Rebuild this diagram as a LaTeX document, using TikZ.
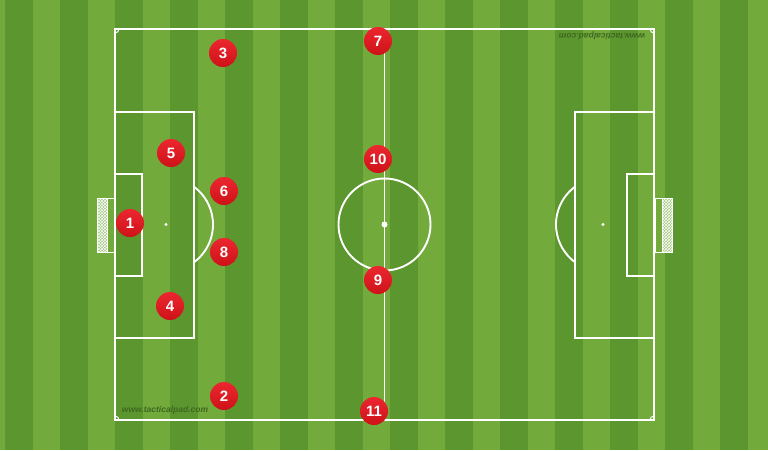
\documentclass[tikz,border=0pt]{standalone}
\usepackage{fontspec}
\setsansfont{Liberation Sans}
\usetikzlibrary{patterns}
\definecolor{grasslight}{RGB}{114, 170, 60}
\definecolor{grassdark}{RGB}{92, 150, 46}
\definecolor{playerred}{RGB}{234, 20, 28}
\definecolor{markgreen}{RGB}{62, 104, 32}
\tikzstyle{player} = [circle, minimum size=28pt, inner sep=0pt,
                      shading=axis, top color=playerred!92!white,
                      bottom color=playerred!88!black, text=white,
                      font=\sffamily\bfseries\fontsize{15}{15}\selectfont]
\tikzstyle{pitchline} = [white, line width=1.9pt]
\tikzstyle{watermark} = [text=markgreen, font=\sffamily\bfseries\itshape\fontsize{8.5}{9}\selectfont]
\begin{document}
\begin{tikzpicture}[x=1pt, y=-1pt]

        \useasboundingbox (0,0) rectangle (768,450);
        \fill [grasslight] (0,0) rectangle (768,450);
        \foreach \k in {-1,...,13}
            \fill [grassdark] (5+55*\k,0) rectangle (33+55*\k,450);

        % pitch
        \draw [pitchline] (115,29) rectangle (654,420);
        \draw [pitchline] (384.5,29) -- (384.5,420);
        \draw [pitchline] (384.5,224.5) circle [radius=46pt];
        \fill [white] (384.5,224.5) circle [radius=3pt];

        \draw [pitchline] (115,112) rectangle (194,338);
        \draw [pitchline] (115,174) rectangle (142,276);
        \fill [white] (166,224.5) circle [radius=1.6pt];
        \draw [pitchline] (166,224.5) ++(-53.4:47pt) arc [start angle=-53.4, end angle=53.4, radius=47pt];

        \draw [pitchline] (575,112) rectangle (654,338);
        \draw [pitchline] (627,174) rectangle (654,276);
        \fill [white] (603,224.5) circle [radius=1.6pt];
        \draw [pitchline] (603,224.5) ++(126.6:47pt) arc [start angle=126.6, end angle=233.4, radius=47pt];

        % corners
        \draw [pitchline, line width=1pt] (115,33) arc [start angle=-90, end angle=0, radius=4pt];
        \draw [pitchline, line width=1pt] (654,33) arc [start angle=-90, end angle=-180, radius=4pt];
        \draw [pitchline, line width=1pt] (115,416) arc [start angle=90, end angle=0, radius=4pt];
        \draw [pitchline, line width=1pt] (654,416) arc [start angle=90, end angle=180, radius=4pt];

        % goals
        \fill [white!35!grasslight] (97,198) rectangle (107,252);
        \fill [pattern=crosshatch, pattern color=white] (97,198) rectangle (107,252);
        \draw [white, line width=0.8pt] (97,198) rectangle (114,252);
        \draw [white, line width=0.8pt] (107,198) -- (107,252);

        \fill [white!35!grasslight] (662,198) rectangle (672,252);
        \fill [pattern=crosshatch, pattern color=white] (662,198) rectangle (672,252);
        \draw [white, line width=0.8pt] (655,198) rectangle (672,252);
        \draw [white, line width=0.8pt] (662,198) -- (662,252);

        \node (MarkBottom) [watermark] at (165,410) {www.tacticalpad.com};
        \node (MarkTop) [watermark, rotate=180] at (602,36) {www.tacticalpad.com};

        % players
        \node (Player1) [player] at (130,223) {1};
        \node (Player2) [player] at (224,396) {2};
        \node (Player3) [player] at (223,53) {3};
        \node (Player4) [player] at (170,306) {4};
        \node (Player5) [player] at (171,153) {5};
        \node (Player6) [player] at (224,191) {6};
        \node (Player7) [player] at (378,41) {7};
        \node (Player8) [player] at (224,252) {8};
        \node (Player9) [player] at (378,280) {9};
        \node (Player10) [player] at (378,159) {10};
        \node (Player11) [player] at (374,411) {11};

\end{tikzpicture}
\end{document}
